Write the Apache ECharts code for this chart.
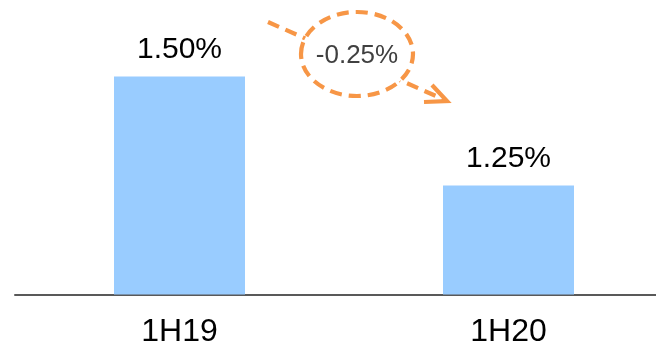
<!DOCTYPE html>
<html>
<head>
<meta charset="utf-8">
<script src="https://cdn.jsdelivr.net/npm/echarts@6/dist/echarts.min.js"></script>
<style>
html,body{margin:0;padding:0;background:#fff;}
#c{width:656px;height:346px;}
</style>
</head>
<body>
<div id="c"></div>
<script>
var categories = ['1H19', '1H20'];
var values = [1.50, 1.25];
var yMin = 1.0;
var yMax = 1.6;

var delta = values[1] - values[0];
var deltaLabel = (delta < 0 ? '-' : '+') + Math.abs(delta).toFixed(2) + '%';

var chart = echarts.init(document.getElementById('c'), null, {renderer: 'canvas'});
var orange = '#F79646';
var dash = {stroke: orange, lineWidth: 4.2, lineDash: [12, 7], fill: null};

chart.setOption({
  animation: false,
  grid: {left: 15, width: 658, top: 33, bottom: 51.5, containLabel: false, outerBoundsMode: 'none'},
  xAxis: {
    type: 'category',
    data: categories,
    axisLine: {show: true, lineStyle: {color: '#595959', width: 2}},
    axisTick: {show: false},
    axisLabel: {margin: 22, fontSize: 32, color: '#000', fontFamily: 'Liberation Sans, Arial, sans-serif'}
  },
  yAxis: {
    type: 'value',
    min: yMin,
    max: yMax,
    show: false,
    splitLine: {show: false}
  },
  series: [{
    type: 'bar',
    data: values,
    barWidth: 131,
    itemStyle: {color: '#99CCFF'},
    label: {
      show: true,
      position: 'top',
      distance: 12,
      fontSize: 30,
      color: '#000',
      fontFamily: 'Liberation Sans, Arial, sans-serif',
      formatter: function (p) { return p.value.toFixed(2) + '%'; }
    }
  }],
  graphic: [
    {type: 'line', shape: {x1: 268, y1: 22, x2: 445, y2: 100}, style: dash, z: 10},
    {type: 'polyline', shape: {points: [[432, 85], [447, 101], [424, 102]]}, style: {stroke: orange, lineWidth: 4.2, fill: null}, z: 10},
    {type: 'ellipse', shape: {cx: 357, cy: 54, rx: 56, ry: 42}, style: {stroke: orange, lineWidth: 4.2, lineDash: [12, 7], fill: '#fff'}, z: 11},
    {type: 'text', x: 357, y: 56, style: {text: deltaLabel, fill: '#404040', fontSize: 26, fontFamily: 'Liberation Sans, Arial, sans-serif', textAlign: 'center', textVerticalAlign: 'middle'}, z: 12}
  ]
});
</script>
</body>
</html>
